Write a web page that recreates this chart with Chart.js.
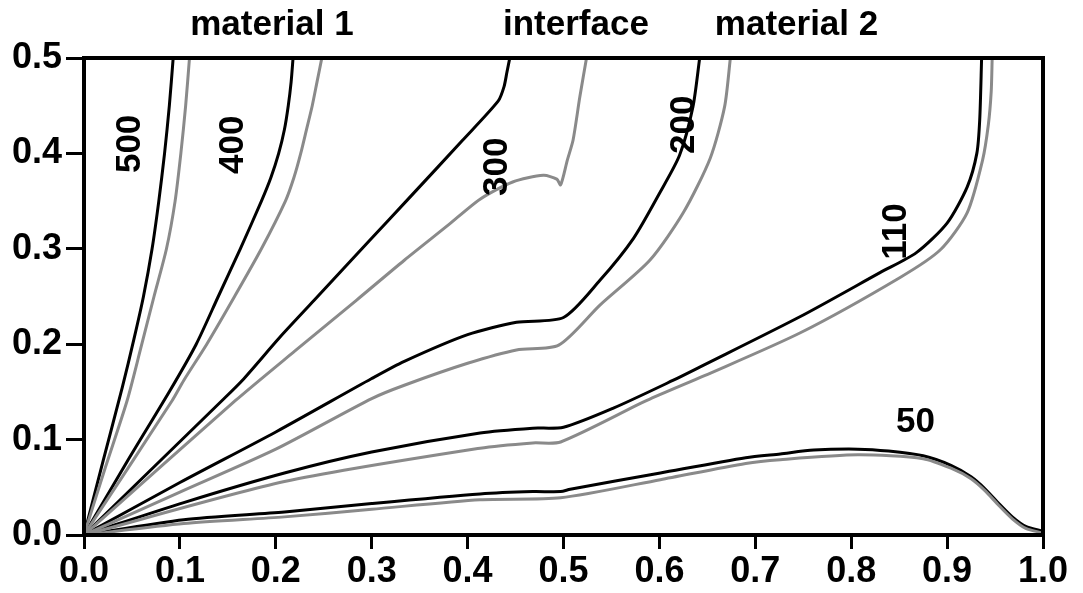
<!DOCTYPE html>
<html lang="en">
    <head>
        <meta charset="UTF-8">
        <title>Contours across interface</title>
        <script src="https://cdn.jsdelivr.net/npm/chart.js@4.4.0/dist/chart.umd.min.js"></script>
        <style>
            body { margin: 0; background: #fff; }
            .chart-div { width: 1083px; height: 593px; }
        </style>
    </head>
    <body>
        <script>
            // contour lines, [x, y] pairs
            let black500 = [[0,0],[0.020,0.078],[0.040,0.155],[0.052,0.205],[0.062,0.250],[0.071,0.300],[0.078,0.350],[0.084,0.400],[0.089,0.450],[0.093,0.500]];
            let gray500 = [[0,0],[0.022,0.070],[0.045,0.141],[0.059,0.195],[0.073,0.250],[0.086,0.300],[0.095,0.350],[0.101,0.400],[0.106,0.450],[0.110,0.500]];

            let black400 = [[0,0],[0.045,0.077],[0.090,0.152],[0.117,0.200],[0.140,0.250],[0.163,0.300],[0.185,0.350],[0.195,0.375],[0.203,0.400],[0.209,0.425],[0.213,0.450],[0.216,0.475],[0.218,0.500]];
            let gray400 = [[0,0],[0.092,0.141],[0.104,0.162],[0.128,0.200],[0.157,0.250],[0.185,0.300],[0.210,0.350],[0.219,0.375],[0.226,0.400],[0.232,0.425],[0.238,0.450],[0.243,0.475],[0.248,0.500]];

            let black300 = [[0,0],[0.144,0.141],[0.165,0.162],[0.204,0.207],[0.240,0.246],[0.298,0.309],[0.337,0.351],[0.395,0.414],[0.432,0.455],[0.438,0.470],[0.441,0.485],[0.444,0.500]];
            let gray300 = [[0,0],[0.158,0.141],[0.220,0.193],[0.284,0.246],[0.334,0.288],[0.380,0.325],[0.413,0.352],[0.447,0.370],[0.479,0.377],[0.493,0.373],[0.497,0.367],[0.504,0.393],[0.510,0.414],[0.517,0.459],[0.524,0.500]];

            let black200 = [[0,0],[0.100,0.055],[0.200,0.108],[0.300,0.164],[0.334,0.182],[0.400,0.210],[0.451,0.223],[0.500,0.228],[0.538,0.267],[0.573,0.311],[0.600,0.358],[0.621,0.398],[0.635,0.449],[0.642,0.500]];
            let gray200 = [[0,0],[0.100,0.045],[0.200,0.090],[0.300,0.143],[0.334,0.157],[0.400,0.180],[0.451,0.194],[0.495,0.199],[0.538,0.241],[0.590,0.288],[0.625,0.338],[0.653,0.395],[0.668,0.449],[0.674,0.500]];

            let black110 = [[0,0],[0.104,0.034],[0.209,0.065],[0.300,0.087],[0.413,0.107],[0.468,0.112],[0.500,0.113],[0.552,0.133],[0.614,0.162],[0.642,0.176],[0.747,0.229],[0.830,0.275],[0.868,0.296],[0.900,0.327],[0.921,0.365],[0.931,0.400],[0.934,0.435],[0.936,0.500]];
            let gray110 = [[0,0],[0.209,0.056],[0.413,0.091],[0.468,0.0965],[0.497,0.0975],[0.587,0.141],[0.647,0.167],[0.747,0.212],[0.851,0.270],[0.893,0.299],[0.921,0.338],[0.937,0.393],[0.943,0.430],[0.946,0.465],[0.947,0.500]];

            let black50 = [[0,0],[0.104,0.016],[0.209,0.024],[0.300,0.033],[0.413,0.043],[0.468,0.0455],[0.497,0.0455],[0.507,0.048],[0.601,0.065],[0.690,0.081],[0.726,0.085],[0.761,0.089],[0.807,0.090],[0.839,0.088],[0.875,0.083],[0.904,0.073],[0.925,0.061],[0.940,0.048],[0.953,0.034],[0.968,0.019],[0.982,0.009],[1.000,0.004]];
            let gray50 = [[0,0],[0.104,0.012],[0.209,0.019],[0.300,0.027],[0.413,0.037],[0.497,0.039],[0.601,0.058],[0.690,0.075],[0.726,0.079],[0.807,0.084],[0.875,0.080],[0.904,0.070],[0.925,0.059],[0.940,0.046],[0.953,0.032],[0.968,0.017],[0.982,0.007],[1.000,0.002]];

            // contour values and where their labels sit
            let contourLabels = ['500', '400', '300', '200', '110', '50'];
            let labelX = [0.048, 0.156, 0.431, 0.626, 0.847, 0.867];
            let labelY = [0.410, 0.409, 0.386, 0.430, 0.318, 0.118];
            let labelRotated = [true, true, true, true, true, false];

            // region names above the plot
            let regionNames = ['material 1', 'interface', 'material 2'];
            let regionX = [0.196, 0.513, 0.743];

            let xTicks = [0, 0.1, 0.2, 0.3, 0.4, 0.5, 0.6, 0.7, 0.8, 0.9, 1.0];
            let yTicks = [0, 0.1, 0.2, 0.3, 0.4, 0.5];
        </script>

        <div class="chart-div">
            <canvas id="contours" width="1083" height="593"></canvas>
        </div>

        <script>
            const fontName = "'Liberation Sans', Arial, sans-serif";

            function toPoints(pairs){
                return pairs.map(p => ({x: p[0], y: p[1]}));
            }

            function lineSet(pairs, color){
                return {
                    data: toPoints(pairs),
                    showLine: true,
                    borderColor: color,
                    borderWidth: 3,
                    pointRadius: 0,
                    tension: 0.25,
                    fill: false
                };
            }

            let blackColor = '#000000';
            let grayColor = '#8a8a8a';

            // gray first so black sits on top
            let datasets = [
                lineSet(gray500, grayColor), lineSet(gray400, grayColor), lineSet(gray300, grayColor),
                lineSet(gray200, grayColor), lineSet(gray110, grayColor), lineSet(gray50, grayColor),
                lineSet(black500, blackColor), lineSet(black400, blackColor), lineSet(black300, blackColor),
                lineSet(black200, blackColor), lineSet(black110, blackColor), lineSet(black50, blackColor)
            ];

            const framePlugin = {
                id: 'frame',
                afterDatasetsDraw(chart){
                    const c = chart.ctx;
                    const a = chart.chartArea;
                    const xs = chart.scales.x;
                    const ys = chart.scales.y;
                    c.save();
                    c.strokeStyle = '#000';
                    c.lineWidth = 4;
                    c.strokeRect(a.left, a.top, a.right - a.left, a.bottom - a.top);

                    c.fillStyle = '#000';
                    c.font = 'bold 35px ' + fontName;
                    c.textAlign = 'center';
                    c.textBaseline = 'middle';
                    for(let i = 0 ; i < contourLabels.length ; i++){
                        let px = xs.getPixelForValue(labelX[i]);
                        let py = ys.getPixelForValue(labelY[i]);
                        c.save();
                        c.translate(px, py);
                        if(labelRotated[i]){
                            c.rotate(-Math.PI / 2);
                        }
                        c.fillText(contourLabels[i], 0, 0);
                        c.restore();
                    }

                    c.font = 'bold 35px ' + fontName;
                    c.textBaseline = 'alphabetic';
                    for(let i = 0 ; i < regionNames.length ; i++){
                        c.fillText(regionNames[i], xs.getPixelForValue(regionX[i]), 35);
                    }
                    c.restore();
                }
            };

            let ctx = document.getElementById('contours').getContext('2d');
            let myChart = new Chart(ctx, {
                type: 'scatter',
                data: { datasets: datasets },
                options: {
                    responsive: false,
                    animation: false,
                    layout: {
                        padding: { top: 58, right: 40, left: 0, bottom: 0 }
                    },
                    scales: {
                        x: {
                            type: 'linear',
                            min: 0,
                            max: 1,
                            afterFit: (axis) => { axis.height = 58; },
                            afterBuildTicks: (axis) => { axis.ticks = xTicks.map(v => ({value: v})); },
                            border: { display: false },
                            grid: {
                                drawOnChartArea: false,
                                color: '#000',
                                lineWidth: 3,
                                tickLength: 14
                            },
                            ticks: {
                                color: '#000',
                                padding: 1,
                                maxRotation: 0,
                                font: { family: fontName, size: 36, weight: 'bold' },
                                callback: (v) => Number(v).toFixed(1)
                            }
                        },
                        y: {
                            type: 'linear',
                            min: 0,
                            max: 0.5,
                            afterFit: (axis) => { axis.width = 84; },
                            afterBuildTicks: (axis) => { axis.ticks = yTicks.map(v => ({value: v})); },
                            border: { display: false },
                            grid: {
                                drawOnChartArea: false,
                                color: '#000',
                                lineWidth: 3,
                                tickLength: 18
                            },
                            ticks: {
                                color: '#000',
                                padding: 4,
                                font: { family: fontName, size: 36, weight: 'bold' },
                                callback: (v) => Number(v).toFixed(1)
                            }
                        }
                    },
                    plugins: {
                        legend: { display: false },
                        tooltip: { enabled: false },
                        title: { display: false }
                    }
                },
                plugins: [framePlugin]
            });
        </script>
    </body>
</html>
